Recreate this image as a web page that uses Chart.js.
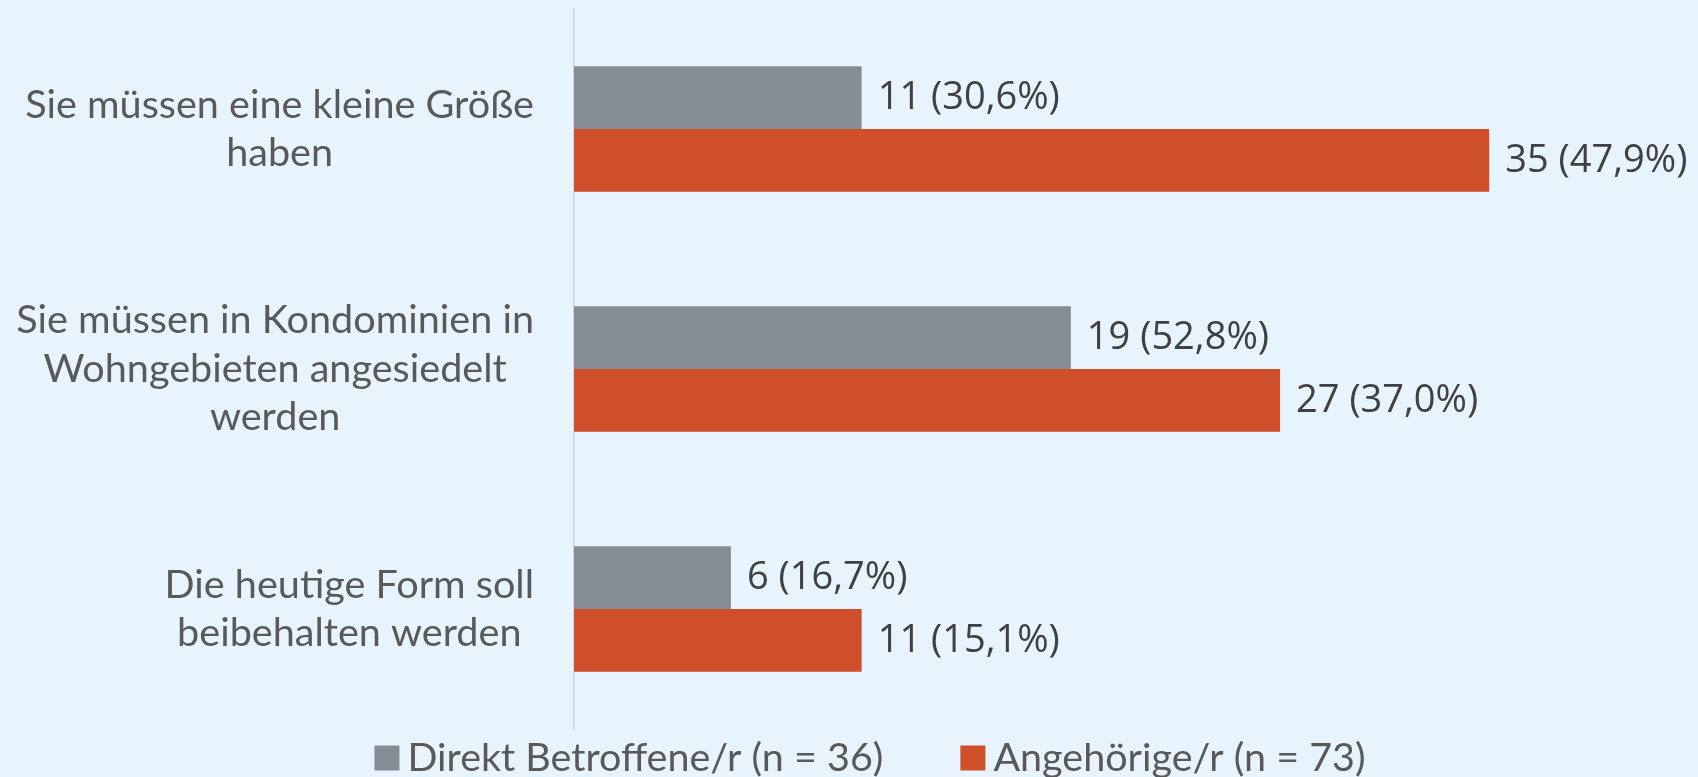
<!DOCTYPE html>
<html>
<head>
<meta charset="utf-8">
<script src="https://cdn.jsdelivr.net/npm/chart.js@4.4.1/dist/chart.umd.min.js"></script>
<style>
  html, body { margin: 0; padding: 0; background: #E7F4FD; }
  #wrap { width: 1698px; height: 777px; position: relative; }
</style>
</head>
<body>
<div id="wrap"><canvas id="c" width="1698" height="777"></canvas></div>
<script>
const categories = [
  ["Sie müssen eine kleine Größe", "haben"],
  ["Sie müssen in Kondominien in", "Wohngebieten angesiedelt", "werden"],
  ["Die heutige Form soll", "beibehalten werden"]
];
const seriesNames = ["Direkt Betroffene/r (n = 36)", "Angehörige/r (n = 73)"];
const direktCounts = [11, 19, 6];
const direktPercents = [30.6, 52.8, 16.7];
const angehCounts = [35, 27, 11];
const angehPercents = [47.9, 37.0, 15.1];

const GRAY = '#868C96';
const ORANGE = '#CF4F2A';
const CAT_FONT = '39.6px Lato';
const VAL_FONT = '38px "Open Sans"';
const LEG_FONT = '39.5px Lato';

const pctLists = [direktPercents, angehPercents];

const valueLabels = {
  id: 'valueLabels',
  afterDatasetsDraw(chart) {
    const ctx = chart.ctx;
    ctx.save();
    ctx.font = VAL_FONT;
    ctx.fillStyle = '#404040';
    ctx.textAlign = 'left';
    ctx.textBaseline = 'middle';
    chart.data.datasets.forEach((ds, di) => {
      const meta = chart.getDatasetMeta(di);
      meta.data.forEach((el, i) => {
        const txt = ds.data[i] + ' (' + pctLists[di][i].toFixed(1).replace('.', ',') + '%)';
        ctx.fillText(txt, el.x + 16, el.y + 1);
      });
    });
    ctx.restore();
  }
};

const categoryLabels = {
  id: 'categoryLabels',
  afterDraw(chart) {
    const ctx = chart.ctx;
    const yScale = chart.scales.y;
    const rightEdge = chart.chartArea.left - 40;
    const pitch = 48.5;
    ctx.save();
    ctx.font = CAT_FONT;
    ctx.fillStyle = '#595959';
    ctx.textAlign = 'center';
    ctx.textBaseline = 'middle';
    chart.data.labels.forEach((lines, i) => {
      const cy = yScale.getPixelForValue(i);
      const maxW = Math.max(...lines.map(l => ctx.measureText(l).width));
      const cx = rightEdge - maxW / 2;
      const startY = cy - (lines.length - 1) * pitch / 2;
      lines.forEach((l, k) => ctx.fillText(l, cx, startY + k * pitch));
    });
    ctx.restore();
  }
};

const bottomLegend = {
  id: 'bottomLegend',
  afterDraw(chart) {
    const ctx = chart.ctx;
    ctx.save();
    ctx.font = LEG_FONT;
    ctx.textBaseline = 'middle';
    ctx.textAlign = 'left';
    const box = 25, gapText = 8, gapItem = 77, cy = 758, centerX = 870;
    const items = chart.data.datasets.map(ds => ({ text: ds.label, color: ds.backgroundColor, w: ctx.measureText(ds.label).width }));
    const total = items.reduce((s, it) => s + box + gapText + it.w, 0) + gapItem * (items.length - 1);
    let x = centerX - total / 2;
    items.forEach(it => {
      ctx.fillStyle = it.color;
      ctx.fillRect(x, cy - box / 2, box, box);
      ctx.fillStyle = '#595959';
      ctx.fillText(it.text, x + box + gapText, cy);
      x += box + gapText + it.w + gapItem;
    });
    ctx.restore();
  }
};

new Chart(document.getElementById('c'), {
  type: 'bar',
  data: {
    labels: categories,
    datasets: [
      { label: seriesNames[0], data: direktCounts, backgroundColor: GRAY },
      { label: seriesNames[1], data: angehCounts, backgroundColor: ORANGE }
    ]
  },
  options: {
    indexAxis: 'y',
    responsive: false,
    animation: false,
    devicePixelRatio: 1,
    layout: { padding: { top: 9, bottom: 48, left: 0, right: 78 } },
    datasets: { bar: { barPercentage: 1, categoryPercentage: 0.523 } },
    scales: {
      x: { display: false, min: 0, max: 40 },
      y: {
        grid: { display: false, drawTicks: false },
        border: { display: true, color: '#D0D4D8', width: 1.5 },
        ticks: { display: false },
        afterFit(scale) { scale.width = 574; }
      }
    },
    plugins: {
      legend: { display: false },
      tooltip: { enabled: false }
    }
  },
  plugins: [valueLabels, categoryLabels, bottomLegend]
});
</script>
</body>
</html>
